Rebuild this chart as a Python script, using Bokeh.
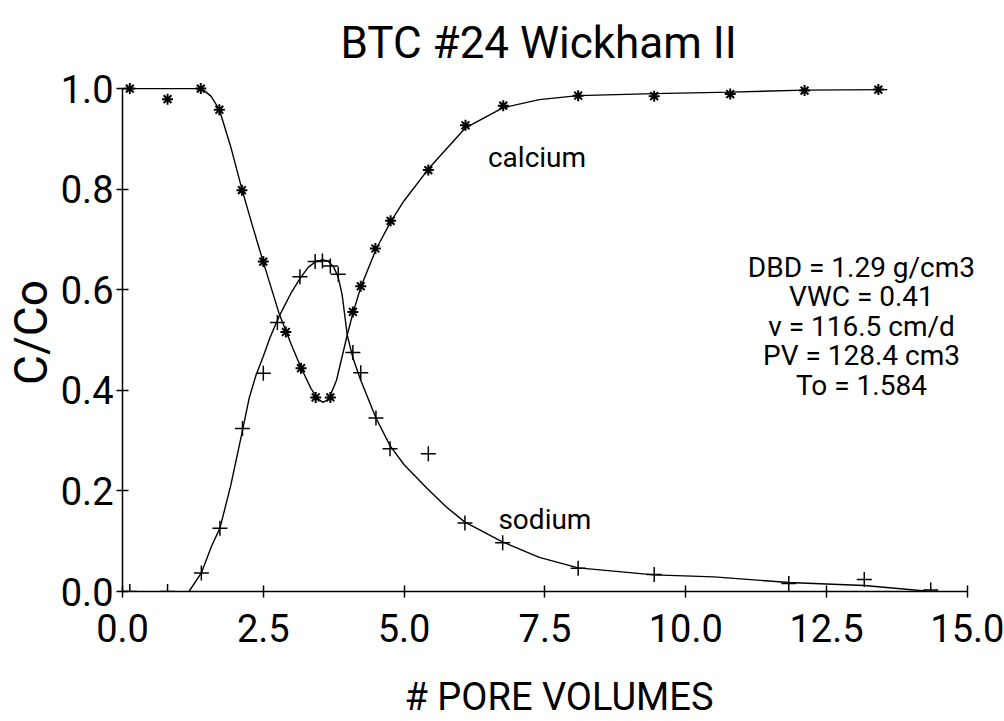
from bokeh.plotting import figure
from bokeh.models import FixedTicker, Range1d, Label
from bokeh.embed import file_html
from bokeh.resources import INLINE

# ---- data ----
# calcium observations (asterisks)
ca_x = [0.13, 0.80, 1.39, 1.72, 2.12, 2.50, 2.90, 3.17, 3.43, 3.69, 4.09, 4.23,
        4.49, 4.76, 5.43, 6.09, 6.76, 8.09, 9.44, 10.79, 12.11, 13.42]
ca_y = [1.0, 0.979, 1.0, 0.958, 0.798, 0.656, 0.516, 0.444, 0.386, 0.386, 0.556, 0.607,
        0.682, 0.737, 0.838, 0.927, 0.966, 0.986, 0.985, 0.989, 0.996, 0.998]

# sodium observations (plus signs)
na_x = [0.13, 0.80, 1.40, 1.73, 2.13, 2.50, 2.75, 3.15, 3.42, 3.55, 3.69, 3.83,
        4.09, 4.23, 4.50, 4.75, 5.43, 6.08, 6.75, 8.09, 9.44, 11.83, 13.17, 14.35]
na_y = [0.0, 0.0, 0.037, 0.126, 0.324, 0.434, 0.535, 0.626, 0.656, 0.657, 0.647, 0.631,
        0.475, 0.435, 0.345, 0.284, 0.274, 0.136, 0.097, 0.046, 0.034, 0.016, 0.024, 0.003]

# fitted curves
ca_fit_x = [0.0, 1.30, 1.45, 1.57, 1.72, 1.92, 2.12, 2.30, 2.50, 2.78, 3.00, 3.17,
            3.35, 3.48, 3.56, 3.66, 3.80, 3.99, 4.09, 4.23, 4.50, 4.76, 5.00, 5.43,
            6.09, 6.76, 7.40, 8.09, 9.44, 10.79, 12.11, 13.58]
ca_fit_y = [1.0, 1.0, 0.996, 0.985, 0.958, 0.885, 0.80, 0.73, 0.655, 0.553, 0.49, 0.445,
            0.403, 0.382, 0.376, 0.382, 0.42, 0.51, 0.553, 0.605, 0.68, 0.735, 0.777, 0.84,
            0.922, 0.962, 0.978, 0.986, 0.99, 0.993, 0.997, 0.998]

na_fit_x = [1.18, 1.40, 1.58, 1.73, 1.92, 2.13, 2.25, 2.37, 2.50, 2.62, 2.78, 3.00,
            3.15, 3.30, 3.42, 3.55, 3.65, 3.75, 3.83, 3.90, 3.99, 4.09, 4.23, 4.50,
            4.75, 5.00, 5.41, 5.75, 6.08, 6.72, 7.40, 8.09, 9.44, 10.50, 11.83, 13.17, 14.35]
na_fit_y = [0.0, 0.037, 0.09, 0.126, 0.21, 0.32, 0.385, 0.43, 0.468, 0.505, 0.547, 0.595,
            0.622, 0.645, 0.655, 0.66, 0.657, 0.645, 0.625, 0.59, 0.51, 0.465, 0.42, 0.345,
            0.29, 0.252, 0.205, 0.168, 0.138, 0.10, 0.068, 0.047, 0.033, 0.029, 0.018, 0.012, 0.0]

x_ticks = [0.0, 2.5, 5.0, 7.5, 10.0, 12.5, 15.0]
x_tick_labels = ["0.0", "2.5", "5.0", "7.5", "10.0", "12.5", "15.0"]
y_ticks = [0.0, 0.2, 0.4, 0.6, 0.8, 1.0]
y_tick_labels = ["0.0", "0.2", "0.4", "0.6", "0.8", "1.0"]

param_lines = ["DBD = 1.29 g/cm3", "VWC = 0.41", "v = 116.5 cm/d",
               "PV = 128.4 cm3", "To = 1.584"]

FONT = "Roboto"

p = figure(width=1004, height=721,
           x_range=Range1d(0, 15.5), y_range=Range1d(0, 1.03),
           output_backend="svg", toolbar_location=None,
           min_border_left=122, min_border_right=9,
           min_border_top=73, min_border_bottom=129)

p.title.text = "BTC #24 Wickham II"
p.title.align = "left"
p.title.offset = 218
p.title.text_line_height = 0.8
p.title.text_font = FONT
p.title.text_font_size = "44px"
p.title.text_font_style = "normal"
p.title.text_color = "black"

p.grid.visible = False
p.outline_line_color = None
p.background_fill_color = "white"
p.border_fill_color = "white"

xa = p.xaxis[0]
ya = p.yaxis[0]
xa.bounds = (0, 15)
ya.bounds = (0, 1)
xa.ticker = FixedTicker(ticks=x_ticks)
ya.ticker = FixedTicker(ticks=y_ticks)
xa.major_label_overrides = {t: l for t, l in zip(x_ticks, x_tick_labels)}
ya.major_label_overrides = {t: l for t, l in zip(y_ticks, y_tick_labels)}

for ax in (xa, ya):
    ax.axis_line_color = "black"
    ax.axis_line_width = 1.5
    ax.major_tick_line_color = "black"
    ax.major_tick_line_width = 1.5
    ax.major_tick_in = 6
    ax.major_tick_out = 6
    ax.minor_tick_line_color = None
    ax.major_label_text_font = FONT
    ax.major_label_text_font_size = "38px"
    ax.major_label_text_color = "black"
    ax.axis_label_text_font = FONT
    ax.axis_label_text_font_style = "normal"
    ax.axis_label_text_color = "black"

xa.major_label_standoff = 16
ya.major_label_standoff = 3
xa.axis_label = "# PORE VOLUMES"
xa.axis_label_text_font_size = "38px"
xa.axis_label_standoff = 30
ya.axis_label = "C/Co"
ya.axis_label_text_font_size = "46px"
ya.axis_label_standoff = 0

# fitted curves
p.line(ca_fit_x, ca_fit_y, line_color="black", line_width=1.4)
p.line(na_fit_x, na_fit_y, line_color="black", line_width=1.4)

# observations
p.scatter(ca_x, ca_y, marker="asterisk", size=11, line_color="black", line_width=2)
p.scatter(na_x, na_y, marker="cross", size=15, line_color="black", line_width=1.5)

# curve labels
p.add_layout(Label(x=7.36, y=0.862, text="calcium", text_align="center",
                   text_baseline="alphabetic", text_font=FONT,
                   text_font_size="28px", text_color="black"))
p.add_layout(Label(x=7.50, y=0.143, text="sodium", text_align="center",
                   text_baseline="alphabetic", text_font=FONT,
                   text_font_size="28px", text_color="black"))

# parameter block
for i, line in enumerate(param_lines):
    p.add_layout(Label(x=13.12, y=0.645 - i * 0.0586, text=line,
                       text_align="center", text_baseline="middle",
                       text_font=FONT, text_font_size="28px",
                       text_color="black"))

open("out.html", "w").write(file_html(p, INLINE))
